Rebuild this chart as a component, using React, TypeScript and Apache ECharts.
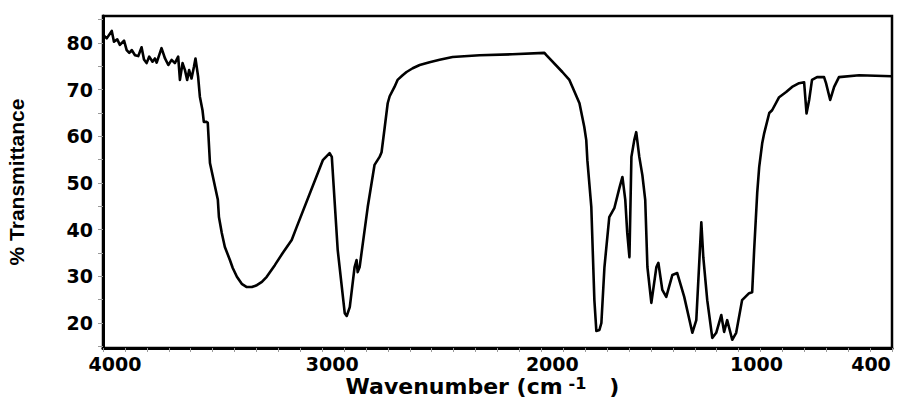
import React, { useEffect, useRef } from "react";
import * as echarts from "echarts";

// Wavenumber (cm-1) and % transmittance
const wavenumbers = [
  4000, 3983, 3960, 3950, 3935, 3923, 3904, 3892, 3880, 3869, 3854, 3839, 3824, 3813, 3801,
  3789, 3774, 3763, 3755, 3733, 3717, 3702, 3687, 3672, 3657, 3649, 3637, 3626, 3616, 3607,
  3596, 3585, 3578, 3566, 3558, 3546, 3540, 3527, 3522, 3512, 3476, 3471, 3458, 3444, 3421,
  3408, 3389, 3367, 3344, 3321, 3298, 3275, 3253, 3216, 3180, 3139, 3116,
  2997, 2966, 2956, 2929, 2897, 2888, 2874, 2852, 2843, 2838, 2829,
  2792, 2761, 2738, 2729, 2715, 2701, 2692, 2670, 2656, 2633, 2615, 2587, 2555, 2510, 2464,
  2405, 2282, 2132, 1986, 1977,
  1904, 1872, 1858, 1826, 1813, 1804, 1795, 1790, 1772, 1758, 1749, 1735, 1726, 1712, 1690,
  1667, 1644, 1630,
  1617, 1608, 1598, 1589, 1576, 1567, 1553, 1539, 1526, 1516, 1498, 1475, 1466, 1448, 1430,
  1402, 1380, 1361, 1348, 1311, 1293, 1270, 1261, 1243, 1220, 1202, 1179, 1166, 1152, 1129,
  1111, 1084, 1052, 1038, 1029, 1015, 1006, 992, 983, 960, 947, 915, 883, 856, 824,
  801, 790, 778, 765, 742,
  710, 701, 682, 664, 642, 550, 400,
];
const transmittance = [
  81.8, 81.0, 82.6, 80.3, 80.8, 79.6, 80.5, 78.5, 77.9, 78.5, 77.4, 77.2, 79.1, 76.5, 75.7,
  77.1, 76.0, 76.7, 75.8, 78.9, 76.7, 75.3, 76.4, 75.7, 77.1, 72.1, 75.7, 74.2, 72.1, 74.2,
  72.4, 74.9, 76.7, 72.8, 68.5, 65.6, 63.1, 63.1, 62.9, 54.3, 46.4, 42.7, 39.3, 36.3, 33.5,
  31.8, 29.9, 28.4, 27.7, 27.7, 28.1, 28.8, 29.9, 32.4, 35.0, 37.8, 40.6,
  54.9, 56.4, 55.6, 35.6, 22.1, 21.5, 23.4, 32.0, 33.5, 30.9, 32.0,
  44.9, 53.9, 55.6, 56.6, 61.8, 67.1, 68.6, 70.6, 72.1, 73.1, 73.8, 74.6, 75.3, 75.9, 76.4,
  77.0, 77.4, 77.6, 77.9, 77.4,
  73.8, 72.1, 70.6, 67.1, 64.1, 62.0, 59.2, 54.9, 44.9, 24.9, 18.3, 18.5, 20.0, 32.0, 42.7,
  44.6, 48.9, 51.3,
  46.4, 39.3, 34.1, 55.6, 59.2, 60.9, 55.6, 51.7, 46.4, 32.0, 24.3, 32.0, 32.9, 27.1, 25.6,
  30.3, 30.7, 27.7, 25.6, 17.9, 20.6, 41.6, 34.1, 24.9, 16.8, 17.9, 21.7, 18.1, 20.6, 16.4,
  17.9, 24.9, 26.4, 26.6, 35.6, 47.9, 53.4, 58.6, 60.7, 65.0, 65.6, 68.4, 69.5, 70.6, 71.4,
  71.6, 64.9, 67.8, 72.1, 72.7,
  72.7, 71.4, 67.8, 70.6, 72.7, 73.1, 72.9,
];

const xLabelValues = [4000, 3000, 2000, 1000, 400];
const xTickValues: number[] = [];
for (let v = 4000; v >= 400; v -= 100) xTickValues.push(v);
const yLabelValues = [20, 30, 40, 50, 60, 70, 80];
const yTickValues = [15, 20, 25, 30, 35, 40, 45, 50, 55, 60, 65, 70, 75, 80, 85];

const numFont = {
  fontFamily: "DejaVu Sans",
  fontWeight: "bold" as const,
  fontSize: 19,
  color: "#000",
};

// horizontal nudges of x labels (left, right padding)
const xLabelPad: Record<number, number[]> = {
  4000: [0, 0, 0, 24],
  3000: [0, 0, 0, 20],
  2000: [0, 0, 0, 22],
  1000: [0, 8, 0, 0],
  400: [0, 42, 0, 0],
};

export default function App() {
  const ref = useRef<HTMLDivElement>(null);
  useEffect(() => {
    if (!ref.current) return;
    const chart = echarts.init(ref.current, null, { renderer: "svg" });
    const rich: Record<string, any> = {};
    xLabelValues.forEach((v) => {
      rich["l" + v] = { ...numFont, padding: xLabelPad[v] };
    });
    chart.setOption({
      animation: false,
      backgroundColor: "#fff",
      grid: {
        left: 103,
        right: 9,
        top: 16,
        bottom: 50,
        show: true,
        borderColor: "#000",
        borderWidth: 2.5,
        outerBoundsMode: "none",
        containLabel: false,
      },
      xAxis: {
        type: "value",
        inverse: true,
        min: 400,
        max: 4000,
        name: "{a|Wavenumber (cm}{s|-1}{a|   )}",
        nameLocation: "middle",
        nameGap: 27,
        nameMoveOverlap: false,
        nameTextStyle: {
          padding: [0, 30, 0, 0],
          verticalAlign: "top",
          rich: {
            a: {
              fontFamily: "DejaVu Sans",
              fontWeight: "bold",
              fontSize: 22,
              lineHeight: 22,
              color: "#000",
            },
            s: {
              fontFamily: "DejaVu Sans",
              fontWeight: "bold",
              fontSize: 16,
              lineHeight: 12,
              verticalAlign: "top",
              color: "#000",
              padding: [0, 0, 0, 6],
            },
          },
        },
        axisLine: { show: true, onZero: false, lineStyle: { color: "#000", width: 3 } },
        axisTick: {
          show: true,
          customValues: xTickValues,
          length: 4,
          lineStyle: { color: "#999", width: 1 },
        },
        axisLabel: {
          customValues: xLabelValues,
          margin: 6,
          formatter: (v: number) => `{l${v}|${v}}`,
          rich,
          ...numFont,
        },
        splitLine: { show: false },
      },
      yAxis: {
        type: "value",
        min: 14.64,
        max: 85.8,
        name: "% Transmittance",
        nameLocation: "middle",
        nameGap: 76,
        nameTextStyle: {
          fontFamily: "Liberation Sans",
          fontWeight: "bold",
          fontSize: 21,
          color: "#000",
        },
        axisLine: { show: true, onZero: false, lineStyle: { color: "#000", width: 3 } },
        axisTick: {
          show: true,
          customValues: yTickValues,
          length: 5,
          lineStyle: { color: "#999", width: 1 },
        },
        axisLabel: { customValues: yLabelValues, margin: 10, ...numFont },
        splitLine: { show: false },
      },
      series: [
        {
          type: "line",
          data: wavenumbers.map((w, i) => [w, transmittance[i]]),
          showSymbol: false,
          lineStyle: { color: "#000", width: 2.6, join: "round" },
          smooth: false,
        },
      ],
    });
    return () => chart.dispose();
  }, []);
  return (
    <div
      ref={ref}
      style={{ position: "fixed", left: 0, top: 0, width: 901, height: 398, background: "#fff" }}
    />
  );
}
